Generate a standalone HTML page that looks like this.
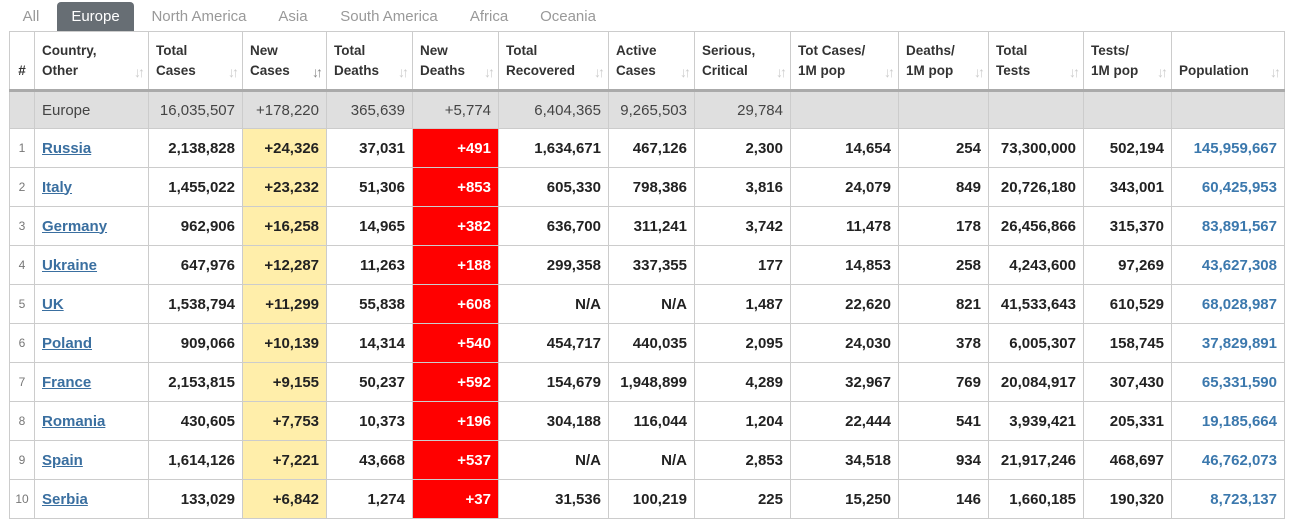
<!DOCTYPE html>
<html><head><meta charset="utf-8">
<style>
html,body{margin:0;padding:0;background:#fff;width:1294px;height:519px;overflow:hidden;font-family:"Liberation Sans",Arial,sans-serif;}
#tabs{position:absolute;left:0;top:0;height:31px;width:1294px;}
.tab{position:absolute;top:2px;height:29px;line-height:29px;font-size:15px;color:#999;text-align:center;}
.tab.active{background:#676e74;color:#fff;border-radius:4px 4px 0 0;}
table{position:absolute;left:9px;top:31px;border-collapse:collapse;table-layout:fixed;width:1275px;}
td,th{border:1px solid #ccc;padding:0 7px;overflow:hidden;white-space:nowrap;box-sizing:border-box;}
th{height:59px;font-size:13.5px;font-weight:bold;color:#333;text-align:left;vertical-align:middle;line-height:20px;position:relative;border-bottom:3px solid #aaa;padding:0 7px;}
th .s{position:absolute;right:6px;bottom:10px;color:#ccc;font-size:14px;font-weight:bold;letter-spacing:-3px;line-height:14px;}
th.sorted .s{color:#888;}
td{height:39px;font-size:15px;text-align:right;color:#222;font-weight:bold;}
tr.total td{background:#dfdfdf;font-weight:normal;color:#444;height:38px;}
td.num{font-size:12px;font-weight:normal;color:#777;text-align:center;padding:0;}
td.country{text-align:left;}
td.country a{color:#3a6fa0;text-decoration:underline;}
td.y{background:#ffeeaa;}
td.r{background:#ff0000;color:#fff;}
td.pop{color:#3b78ad;}
</style></head><body>
<div id="tabs">
<div class="tab" style="left:14px;width:34px">All</div>
<div class="tab active" style="left:57px;width:77px">Europe</div>
<div class="tab" style="left:143px;width:112px">North America</div>
<div class="tab" style="left:268px;width:50px">Asia</div>
<div class="tab" style="left:331px;width:116px">South America</div>
<div class="tab" style="left:460px;width:58px">Africa</div>
<div class="tab" style="left:530px;width:76px">Oceania</div>
</div>
<table>
<colgroup><col style="width:25px"><col style="width:114px"><col style="width:94px"><col style="width:84px"><col style="width:86px"><col style="width:86px"><col style="width:110px"><col style="width:86px"><col style="width:96px"><col style="width:108px"><col style="width:90px"><col style="width:95px"><col style="width:88px"><col style="width:113px"></colgroup>
<thead><tr id="hdr"></tr></thead>
<tbody id="body"></tbody>
</table>
<script>
const headers=[["#",""],["Country,","Other"],["Total","Cases"],["New","Cases"],["Total","Deaths"],["New","Deaths"],["Total","Recovered"],["Active","Cases"],["Serious,","Critical"],["Tot Cases/","1M pop"],["Deaths/","1M pop"],["Total","Tests"],["Tests/","1M pop"],["","Population"]];
const total=["","Europe","16,035,507","+178,220","365,639","+5,774","6,404,365","9,265,503","29,784","","","","",""];
const countries=["Russia","Italy","Germany","Ukraine","UK","Poland","France","Romania","Spain","Serbia"];
const totalCases=["2,138,828","1,455,022","962,906","647,976","1,538,794","909,066","2,153,815","430,605","1,614,126","133,029"];
const newCases=["+24,326","+23,232","+16,258","+12,287","+11,299","+10,139","+9,155","+7,753","+7,221","+6,842"];
const totalDeaths=["37,031","51,306","14,965","11,263","55,838","14,314","50,237","10,373","43,668","1,274"];
const newDeaths=["+491","+853","+382","+188","+608","+540","+592","+196","+537","+37"];
const recovered=["1,634,671","605,330","636,700","299,358","N/A","454,717","154,679","304,188","N/A","31,536"];
const active=["467,126","798,386","311,241","337,355","N/A","440,035","1,948,899","116,044","N/A","100,219"];
const serious=["2,300","3,816","3,742","177","1,487","2,095","4,289","1,204","2,853","225"];
const casesPerM=["14,654","24,079","11,478","14,853","22,620","24,030","32,967","22,444","34,518","15,250"];
const deathsPerM=["254","849","178","258","821","378","769","541","934","146"];
const tests=["73,300,000","20,726,180","26,456,866","4,243,600","41,533,643","6,005,307","20,084,917","3,939,421","21,917,246","1,660,185"];
const testsPerM=["502,194","343,001","315,370","97,269","610,529","158,745","307,430","205,331","468,697","190,320"];
const population=["145,959,667","60,425,953","83,891,567","43,627,308","68,028,987","37,829,891","65,331,590","19,185,664","46,762,073","8,723,137"];
const colNames=["rank","country","total-cases","new-cases","total-deaths","new-deaths","total-recovered","active-cases","serious-critical","cases-per-million","deaths-per-million","total-tests","tests-per-million","population"];
const hdr=document.getElementById('hdr');
headers.forEach((h,i)=>{
  const th=document.createElement('th');
  
  
  if(i===0){th.textContent='#';th.style.textAlign='center';th.style.padding='0';th.style.paddingTop='20px';}
  else{th.innerHTML=(h[0]||'&nbsp;')+'<br>'+h[1]+'<span class="s">↓↑</span>';}
  if(i===3)th.className='sorted';
  hdr.appendChild(th);
});
const body=document.getElementById('body');
const tr0=document.createElement('tr');
tr0.className='total';


total.forEach((v,i)=>{const td=document.createElement('td');td.textContent=v;if(i===1)td.style.textAlign='left';


tr0.appendChild(td);});
body.appendChild(tr0);
countries.forEach((c,r)=>{
  const tr=document.createElement('tr');
  
  
  const vals=[String(r+1),c,totalCases[r],newCases[r],totalDeaths[r],newDeaths[r],recovered[r],active[r],serious[r],casesPerM[r],deathsPerM[r],tests[r],testsPerM[r],population[r]];
  vals.forEach((v,i)=>{
    const td=document.createElement('td');
    
    
    if(i===0)td.className='num';
    if(i===1){td.className='country';const a=document.createElement('a');a.textContent=v;
      
      
      td.appendChild(a);}
    else td.textContent=v;
    if(i===3)td.className='y';
    if(i===5)td.className='r';
    if(i===13)td.className='pop';
    tr.appendChild(td);
  });
  body.appendChild(tr);
});
</script>
</body></html>
